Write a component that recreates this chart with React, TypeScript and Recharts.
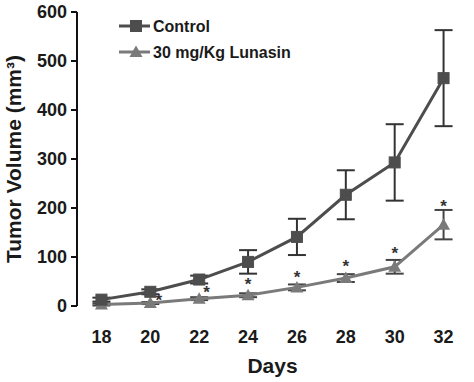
import {
  ComposedChart,
  Line,
  Scatter,
  XAxis,
  YAxis,
  ErrorBar,
} from 'recharts'

const days = [18, 20, 22, 24, 26, 28, 30, 32]
const control = [13, 29, 54, 90, 141, 227, 293, 465]
const controlErr = [4, 5, 8, 24, 37, 50, 78, 98]
const lunasin = [3, 6, 15, 22, 38, 57, 80, 166]
const lunasinErr = [2, 2, 3, 4, 6, 8, 14, 30]

// significance stars (x slightly offset on days 20 and 22)
const starDays = [20.35, 22.3, 24, 26, 28, 30, 32]
const starValues = [18, 35, 51, 65, 88, 114, 210]

const yTicks = [0, 100, 200, 300, 400, 500, 600]
const boundaryTicks = [19, 21, 23, 25, 27, 29, 31, 33]
const seriesNames = ['Control', '30 mg/Kg Lunasin']

const data = days.map((day, i) => ({
  day,
  control: control[i],
  controlErr: controlErr[i],
  lunasin: lunasin[i],
  lunasinErr: lunasinErr[i],
}))
const stars = starDays.map((day, i) => ({ day, star: starValues[i] }))

const FONT = '"Liberation Sans", Arial, sans-serif'
const DARK = '#4d4d4d'
const LIGHT = '#7a7a7a'

function Square(props: any) {
  const { cx, cy } = props
  if (cx == null || cy == null) return null
  return <rect x={cx - 5.5} y={cy - 5.5} width={11} height={11} fill={DARK} stroke={DARK} strokeWidth={1} />
}

function Triangle(props: any) {
  const { cx, cy } = props
  if (cx == null || cy == null) return null
  return <polygon points={`${cx},${cy - 6.5} ${cx - 6.5},${cy + 5} ${cx + 6.5},${cy + 5}`} fill={LIGHT} />
}

function Star(props: any) {
  const { cx, cy } = props
  if (cx == null || cy == null) return null
  return (
    <text x={cx} y={cy + 9} textAnchor="middle" fontFamily={FONT} fontWeight="bold" fontSize={17} fill="#333">
      *
    </text>
  )
}

function LegendBox() {
  const rows = [
    { name: seriesNames[0], color: DARK, Mark: Square },
    { name: seriesNames[1], color: LIGHT, Mark: Triangle },
  ]
  return (
    <svg width={200} height={50} style={{ position: 'absolute', left: 118, top: 18 }}>
      {rows.map((r, i) => {
        const y = 8 + i * 26
        return (
          <g key={r.name}>
            <line x1={1} x2={32} y1={y} y2={y} stroke={r.color} strokeWidth={3} />
            <r.Mark cx={18} cy={y} />
            <text x={35} y={y + 6} fontFamily={FONT} fontWeight="bold" fontSize={16} fill="#1a1a1a">
              {r.name}
            </text>
          </g>
        )
      })}
    </svg>
  )
}

export default function App() {
  return (
    <div style={{ position: 'absolute', left: 0, top: 0, width: 474, height: 382, background: '#fff' }}>
      <ComposedChart
        width={474}
        height={382}
        data={data}
        margin={{ top: 12, right: 6, bottom: 0, left: 0 }}
      >
        <XAxis
          xAxisId="marks"
          dataKey="day"
          type="number"
          domain={[17, 33]}
          ticks={boundaryTicks}
          tick={false}
          tickSize={6}
          height={0}
          axisLine={{ stroke: '#111', strokeWidth: 2 }}
          tickLine={{ stroke: '#111', strokeWidth: 2 }}
        />
        <XAxis
          xAxisId="days"
          dataKey="day"
          type="number"
          domain={[17, 33]}
          ticks={days}
          height={76}
          axisLine={false}
          tickLine={false}
          tickMargin={18}
          tick={{ fontFamily: FONT, fontWeight: 'bold', fontSize: 18, fill: '#1a1a1a' }}
          label={{
            value: 'Days',
            position: 'insideBottom',
            offset: 9,
            style: { fontFamily: FONT, fontWeight: 'bold', fontSize: 21, fill: '#1a1a1a' },
          }}
        />
        <YAxis
          domain={[0, 600]}
          ticks={yTicks}
          width={77}
          tickSize={6}
          tickMargin={4}
          axisLine={{ stroke: '#111', strokeWidth: 2 }}
          tickLine={{ stroke: '#111', strokeWidth: 2 }}
          tick={{ fontFamily: FONT, fontWeight: 'bold', fontSize: 18, fill: '#1a1a1a' }}
          label={{
            value: 'Tumor Volume (mm³)',
            angle: -90,
            position: 'insideLeft',
            offset: 14,
            style: { textAnchor: 'middle', fontFamily: FONT, fontWeight: 'bold', fontSize: 21, fill: '#1a1a1a' },
          }}
        />
        <Line
          xAxisId="days"
          dataKey="lunasin"
          stroke={LIGHT}
          strokeWidth={3}
          dot={<Triangle />}
          activeDot={false}
          isAnimationActive={false}
          legendType="none"
        >
          <ErrorBar dataKey="lunasinErr" width={9} stroke="#444" strokeWidth={2} direction="y" />
        </Line>
        <Line
          xAxisId="days"
          dataKey="control"
          stroke={DARK}
          strokeWidth={3}
          dot={<Square />}
          activeDot={false}
          isAnimationActive={false}
          legendType="none"
        >
          <ErrorBar dataKey="controlErr" width={9} stroke="#333" strokeWidth={2} direction="y" />
        </Line>
        <Scatter
          xAxisId="days"
          data={stars}
          dataKey="star"
          shape={<Star />}
          isAnimationActive={false}
          legendType="none"
        />
      </ComposedChart>
      <LegendBox />
    </div>
  )
}
